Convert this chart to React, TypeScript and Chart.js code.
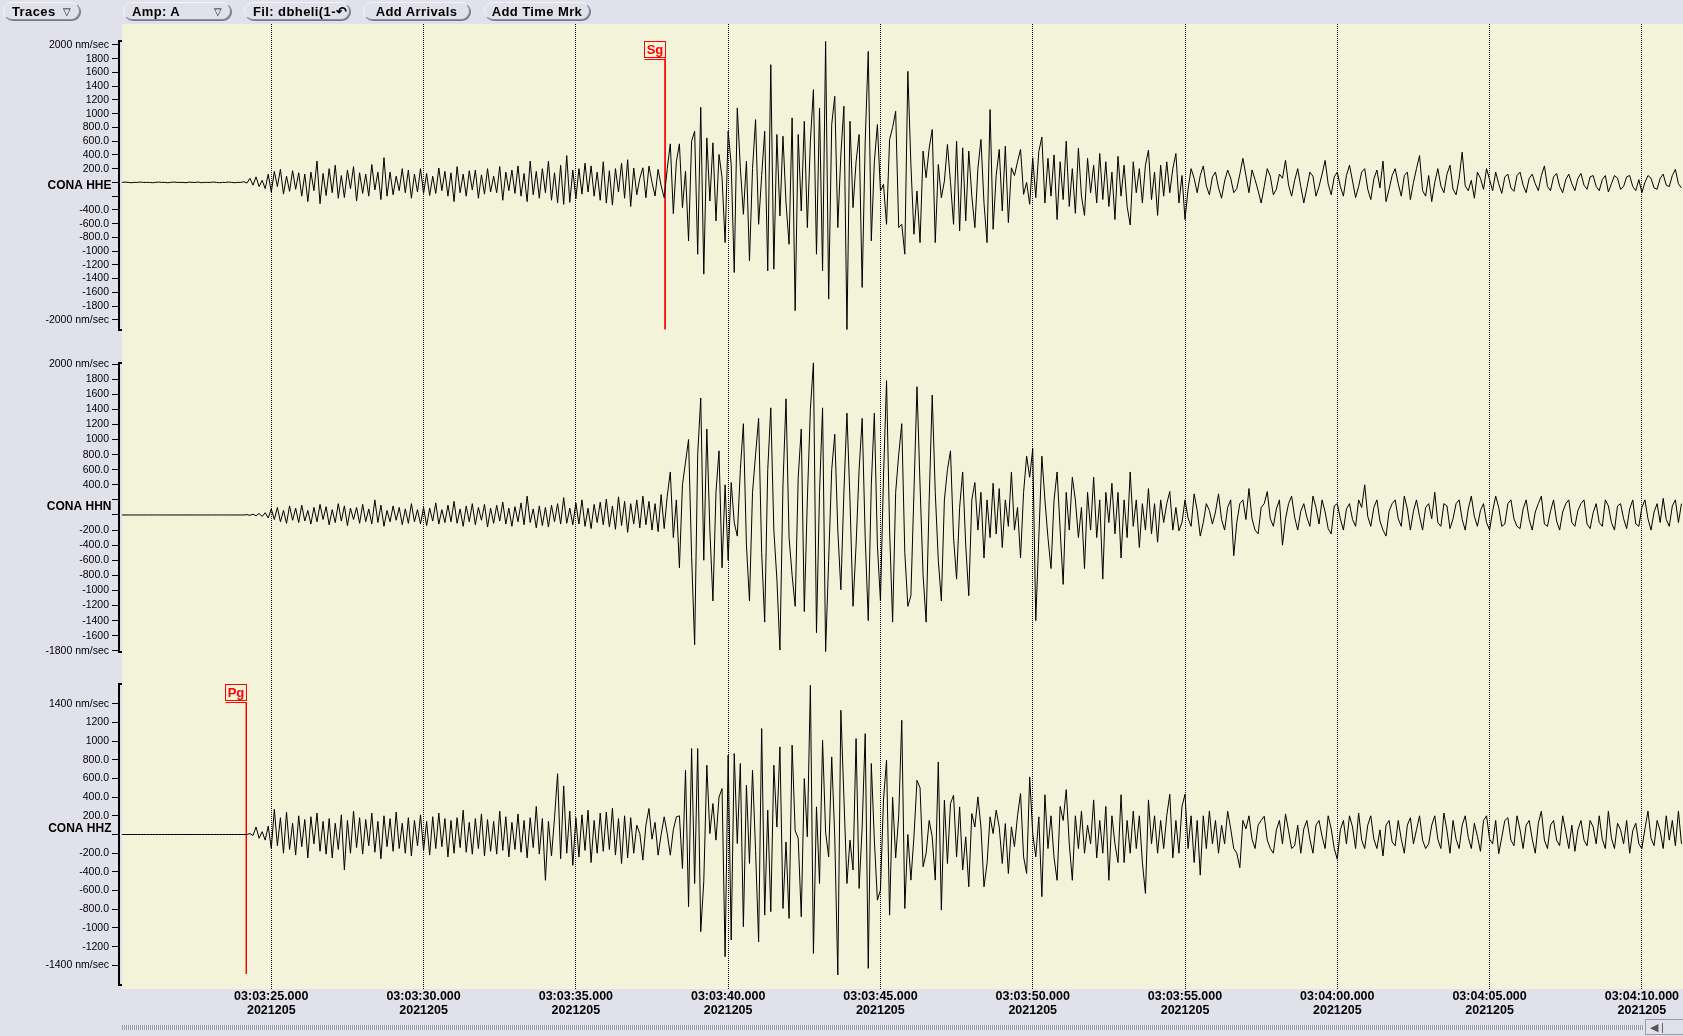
import React, { useEffect, useRef } from "react";
import { Chart, registerables } from "chart.js";

Chart.register(...registerables);

// ---------- data ----------
const T0 = 20.1; // seconds after 03:03:00 of first sample
const DT = 0.1; // sample spacing (s)
const X_MIN = 20;
const X_MAX = 71.35;

const timeTicks = [25, 30, 35, 40, 45, 50, 55, 60, 65, 70];
const timeLabels = [
  "03:03:25.000", "03:03:30.000", "03:03:35.000", "03:03:40.000", "03:03:45.000",
  "03:03:50.000", "03:03:55.000", "03:04:00.000", "03:04:05.000", "03:04:10.000",
];
const dateLabel = "2021205";

const channelNames = ["CONA HHE", "CONA HHN", "CONA HHZ"];

const hheTicks = [2000, 1800, 1600, 1400, 1200, 1000, 800, 600, 400, 200, 0, -200, -400, -600, -800, -1000, -1200, -1400, -1600, -1800, -2000];
const hhnTicks = [2000, 1800, 1600, 1400, 1200, 1000, 800, 600, 400, 200, 0, -200, -400, -600, -800, -1000, -1200, -1400, -1600, -1800];
const hhzTicks = [1400, 1200, 1000, 800, 600, 400, 200, 0, -200, -400, -600, -800, -1000, -1200, -1400];
const hheUnlabeled = [0, -200];
const hhnUnlabeled = [200, 0];
const hhzUnlabeled = [0];
const hheRange = [-2141, 2061];
const hhnRange = [-1816, 2017];
const hhzRange = [-1610, 1610];

const phaseNames = ["Sg", "Pg"];
const phaseTimes = [37.93, 24.18];
const phaseFrom = [1800, 1414];
const phaseTo = [-2141, -1490];
const phaseAxis = ["y1", "y3"];

// nm/sec, one row per second
const hheValues = [
  0, 5, 0, -5, 0, 0, 5, 0, 0,
  0, -5, 0, 5, 0, 0, -5, 0, 5, 0,
  0, 0, -5, 5, 0, 0, 5, -5, 0, 0,
  0, 5, 0, -5, 0, 0, 5, 0, -5, 0,
  0, 10, -10, 60, -40, 80, -60, 30, -90, 120,
  -140, 160, -60, 190, -170, 90, -130, 170, -100, 140,
  -200, 120, -280, 150, -120, 310, -310, 130, -190, 200,
  -150, 250, -230, 100, -220, 180, -90, 230, -270, 140,
  -160, 120, -200, 260, -110, 150, -250, 360, -200, 150,
  -180, 90, -120, 200, -150, 180, -230, 120, -140, 200,
  -160, 130, -190, 90, -160, 210, -120, 160, -200, 140,
  -280, 230, -150, 120, -200, 170, -110, 180, -230, 110,
  -170, 200, -140, 90, -150, 230, -260, 150, -120, 180,
  -160, 240, -200, 130, -280, 310, -180, 160, -230, 200,
  -150, 310, -260, 140, -300, 250, -320, 390, -290, 180,
  -240, 200, -170, 280, -140, 240, -200, 150, -260, 300,
  -300, 170, -330, 200, -140, 280, -230, 330, -350, 210,
  -180, 60, 213, -223, 237, 0, -198, 189, -50, -223,
  200, 561, -455, 300, 561, -368, 164, -851, 600, 745,
  -1045, 1093, -1335, 648, -271, 576, -561, 406, 68, -876,
  745, 261, -1311, 1084, 213, -464, 310, -1142, 200, 914,
  -610, 100, 745, -1287, 1713, -1263, 697, -489, 672, -300,
  -900, 939, -1867, 697, -416, 890, -658, 600, 1350, -1045,
  1084, -1287, 2051, -1698, 842, 1253, -658, 400, 1108, -2158,
  890, -368, 300, 697, -1529, 600, 1906, -851, 300, 842,
  -126, -29, -610, 624, 800, 1035, -658, -610, -1045, 1616,
  261, -755, -126, -876, 455, 68, 500, 769, -876, 261,
  -223, 19, 552, 0, -610, 600, -706, 503, -561, 455,
  -200, -658, 200, 624, -300, -876, 1060, -682, 100, 479,
  -416, 527, -585, 213, 100, 300, 479, -174, 0, -319,
  358, -223, 450, 660, -300, 350, -200, 400, -540, 300,
  -250, 600, -350, 200, -450, 500, -200, -480, 350, -150,
  250, -300, 420, -250, 300, -350, 150, -540, 380, -200,
  250, -350, -620, 300, -150, 200, -300, 250, 470, -250,
  150, -480, 250, -200, 300, -150, 200, 420, -300, 100,
  -540, -100, 200, 60, -150, 100, 240, -50, -180, 80,
  150, -80, -230, 20, 180, 60, -150, -90, 120, 350,
  100, -150, 180, 40, -120, -300, -60, 200, 90, -180,
  -100, 120, 60, 320, -40, -200, 30, 200, -60, -300,
  -80, 150, 90, -200, -60, 120, 320, -20, -180, 80,
  150, -60, -200, 100, 250, 20, -220, -60, 150, 200,
  -100, -250, 50, 180, -80, 310, -280, -100, 100, 200,
  -20, -200, 100, 150, -250, 0, 200, 390, -120, -200,
  100, -280, 0, 200, -50, -150, 120, 250, -100, -180,
  60, 440, -50, -120, 30, -230, 150, 60, -100, 200,
  40, -120, 150, -20, -160, 80, 120, -80, -130, 100,
  150, -40, -150, 60, 120, -20, -120, 100, 240, -60,
  -120, 80, 130, -60, -150, 40, 120, -20, -120, 60,
  130, -40, -100, 80, 100, -60, -120, 40, 100, -140,
  -20, 100, 60, -100, -60, 80, 100, -60, -120, 40,
  -150, 0, 100, 60, -80, -100, 60, 120, -40, -60,
  100, 190, -20, -80,
];

const hhnValues = [
  0, 0, 0, 0, 0, 0, 0, 0, 0,
  0, 0, 0, 0, 0, 0, 0, 0, 0, 0,
  0, 0, 0, 0, 0, 0, 0, 0, 0, 0,
  0, 0, 0, 0, 0, 0, 0, 0, 0, 0,
  0, 0, 5, -5, 10, -10, 20, -20, 30, -40,
  80, -60, 100, -90, 60, -110, 120, -70, 90, -100,
  130, -80, 60, -120, 100, -90, 140, -60, 110, -130,
  70, -100, 150, -80, 120, -140, 90, -60, 100, -110,
  140, -90, 80, -120, 200, -100, 130, -150, 60, -90,
  120, -70, 100, -130, 80, -110, 150, -90, 70, -120,
  100, -140, 90, -80, 160, -120, 70, -100, 130, -90,
  180, -110, 80, -150, 120, -90, 150, -130, 100, -70,
  140, -160, 90, -110, 130, -80, 170, -120, 90, -150,
  110, -90, 160, -130, 250, -100, 80, -170, 120, -140,
  100, -160, 130, -90, 150, -120, 230, -110, 90, -130,
  160, -120, 200, -150, 90, -180, 140, -100, 170, -130,
  210, -160, 120, -190, 240, -140, 180, -230, 150, -120,
  200, -170, 250, -130, 180, -200, 150, -220, 270, -180,
  250, 570, -300, 200, -700, 400, 700, 1000, -550, -1720,
  800, 1550, -600, 1140, -200, -1140, 300, 850, -700, 400,
  -600, 430, -100, -280, 600, 1210, -400, -1140, 300, 800,
  1280, -500, -1420, 600, 1420, -200, -850, -1790, 400, 1540,
  -300, -800, -1210, 500, 1140, -1280, 200, 1400, 2020, -1560,
  300, 1420, -1810, -600, 600, 1070, -200, -990, 300, 1350,
  200, -1210, -400, 600, 1280, -300, -1400, 400, 1350, -400,
  -1140, 500, 1780, -200, -1420, 300, 800, 1210, -500, -1210,
  -1070, 300, 1700, 400, -800, -1420, 200, 1590, 300, -600,
  -1140, 200, 600, 850, -300, -850, 100, 570, -400, -1070,
  200, 430, -200, 300, -570, 200, -300, 420, -250, 350,
  -430, 200, -150, 570, -200, 100, -570, 300, 780, 500,
  880, -1400, -300, 780, 200, -300, -710, 200, 570, -200,
  -920, 300, -200, 500, 200, -300, 100, -710, 300, -200,
  500, -300, 200, -850, 300, -100, 420, -250, 300, -570,
  200, -300, 570, -150, 200, -430, 150, -200, 350, -250,
  150, -360, 200, -100, 150, 310, -200, 100, -210, -100,
  200, -40, -150, 280, 60, -280, -100, 150, 60, -120,
  40, 280, -60, -200, 100, 200, -540, -100, 150, 200,
  -60, 350, -50, -200, -250, 100, 150, 310, -50, -150,
  80, 200, -400, -50, 150, 250, -30, -200, 50, 150,
  -30, -150, 250, 100, -120, 200, 40, -180, -250, 120,
  150, -50, -200, 80, 150, -60, -150, 200, 100, 400,
  -20, -150, 100, 200, -80, -200, -280, 50, 150, 200,
  -50, -150, 250, 80, -200, 50, 200, -20, -200, 100,
  150, -50, 300, -100, -150, 150, 120, -180, -50, 150,
  200, -60, -200, 80, 250, -20, -150, 60, 150, -100,
  -200, 50, 250, 100, -150, -120, 150, 200, -50, -150,
  -180, 80, 200, -60, -200, 40, 150, 250, -120, -150,
  50, 200, -80, -200, 40, 150, 200, -100, -150, 60,
  150, 200, -120, -180, 30, 150, -100, -150, 200, 120,
  -100, -200, 120, 150, -50, -180, 80, 200, -120, -150,
  100, 200, -50, -200, 40, 150, -100, 220, -60, -150,
  120, 200, -100, 150,
];

const hhzValues = [
  0, 0, 0, 0, 0, 0, 0, 0, 0,
  0, 0, 0, 0, 0, 0, 0, 0, 0, 0,
  0, 0, 0, 0, 0, 0, 0, 0, 0, 0,
  0, 0, 0, 0, 0, 0, 0, 0, 0, 0,
  0, 0, 0, 10, -10, 80, -40, 30, -60, 90,
  -150, 270, -120, 180, -200, 240, -160, 120, -220, 200,
  -130, 160, -250, 190, -100, 230, -180, 140, -210, 170,
  -250, 120, -160, 210, -380, 150, -200, 250, -140, 180,
  -210, 160, -120, 230, -190, 140, -260, 200, -130, 170,
  -180, 240, -150, 120, -200, 180, -230, 150, -120, 210,
  -170, 140, -220, 190, -150, 230, -130, 170, -240, 150,
  -200, 180, -140, 260, -190, 130, -210, 170, -150, 220,
  -230, 160, -180, 140, -210, 250, -170, 190, -240, 130,
  -160, 220, -190, 150, -250, 180, -140, 300, -210, 170,
  -490, 140, -230, 180, 650, -260, 520, -200, 250, -330,
  180, -240, 210, -170, 260, -300, 150, -200, 230, -180,
  240, -160, 280, -220, 170, -310, 200, -250, 180, -200,
  100, 10, -274, 100, 278, -50, 130, -221, 0, 189,
  10, -221, 50, 189, 200, -363, 687, -773, 919, -524,
  919, -1040, -500, 741, 10, 331, -60, 400, 491, -1307,
  848, -1129, 866, -96, 759, -987, 527, -310, 687, -170,
  -1147, 1133, -862, 260, -826, 741, 80, 937, -791, -80,
  -898, 955, 40, -40, -880, 598, -25, 1596, -1272, 296,
  -524, 1008, 25, -240, 830, -25, -1503, 1329, 400, -524,
  -60, -380, 1026, -577, 80, 1079, -1432, 759, -60, -702,
  -595, 370, 794, -862, 400, -250, 200, 1222, -791, 0,
  -488, -25, 580, 500, -345, -200, 150, -25, -488, 776,
  -809, 367, -310, 331, 420, -240, 295, -380, -25, -559,
  224, 80, 402, 80, -559, -310, 189, 10, 260, 80,
  -310, 117, -417, 82, -130, 200, 438, -239, -417, 616,
  10, -239, 189, -665, 425, -150, 200, -250, -490, 300,
  150, 480, -100, -490, 200, -150, 250, -200, 100, -100,
  370, -250, 150, -200, 300, -490, 200, -100, -300, 425,
  -300, 150, -200, 250, -150, 200, -300, -630, 370, -100,
  200, -200, 150, -150, 200, 430, -250, 150, -200, 300,
  430, -150, 200, -300, 150, -435, 200, -150, 250, -100,
  150, -200, 100, -100, 250, 60, -150, -200, -355, 150,
  60, 200, -50, -150, 100, 150, 195, -60, -150, -200,
  50, 150, -100, 220, 40, -150, -120, 100, -200, 60,
  150, -50, -200, 100, 150, -20, -150, 200, 60, -150,
  -265, 50, 150, -100, 200, 80, -150, 230, -60, -150,
  100, 200, -50, -150, 50, -230, 100, 150, -80, -120,
  150, -50, -200, 100, 180, -100, 50, 200, -60, -150,
  -100, 100, 200, -50, -150, 230, 40, -200, 150, -50,
  -150, 100, 200, -30, -150, 120, -20, -180, 150, 200,
  -50, -100, 150, -205, -30, 150, 180, -60, -120, 200,
  50, -150, 100, 150, -50, -200, 120, 250, -60, -150,
  100, 150, -60, -120, 200, 30, -150, 100, -180, 50,
  150, -60, -120, 150, 80, -100, 200, -50, -150, 250,
  -40, -150, 120, 50, -100, 150, -200, 40, 120, -100,
  -150, 60, 250, -40, -120, 150, 40, -150, 200, -60,
  150, -120, 250, -100,
];

// ---------- styling ----------
const PAGE_BG = "#e1e1eb";
const PLOT_BG = "#f3f3da";
const RED = "#ff0000";
const AXIS_W = 119;
const SANS = '"Liberation Sans", Arial, Helvetica, sans-serif';

const toPoints = (vals: number[]) =>
  vals.map((v, i) => ({ x: +(T0 + i * DT).toFixed(2), y: v }));

const fmtTick = (v: number, list: number[], hidden: number[]) => {
  if (hidden.includes(v)) return "";
  let s = Math.abs(v) >= 1000 ? String(v) : v.toFixed(1);
  if (v === Math.max(...list) || v === Math.min(...list)) s += " nm/sec";
  return s;
};

const panelAxis = (
  range: number[], list: number[], hidden: number[], weight: number, stackWeight: number
) => ({
  type: "linear",
  axis: "y",
  position: "left",
  stack: "panels",
  stackWeight,
  weight,
  min: range[0],
  max: range[1],
  afterBuildTicks: (s: any) => {
    s.ticks = [...list].sort((a, b) => a - b).map((v) => ({ value: v }));
  },
  afterFit: (s: any) => {
    s.width = AXIS_W;
  },
  ticks: {
    autoSkip: false,
    padding: 3,
    color: "#000",
    font: { family: SANS, size: 10.5 },
    callback: (v: any) => fmtTick(Number(v), list, hidden),
  },
  grid: { display: true, drawOnChartArea: false, drawTicks: true, tickLength: 7, color: "#000", tickColor: "#000", lineWidth: 1 },
  border: { display: true, color: "#000", width: 2 },
});

const spacerAxis = (weight: number, stackWeight: number) => ({
  type: "linear",
  axis: "y",
  position: "left",
  stack: "panels",
  stackWeight,
  weight,
  min: 0,
  max: 1,
  ticks: { display: false },
  grid: { display: false },
  border: { display: false },
  afterFit: (s: any) => {
    s.width = AXIS_W;
  },
});

const bgPlugin = {
  id: "panelBg",
  beforeDraw(chart: any) {
    const { ctx, chartArea: a } = chart;
    ctx.save();
    ctx.fillStyle = PLOT_BG;
    ctx.fillRect(a.left + 3, a.top, a.right - a.left - 3, a.bottom - a.top);
    ctx.restore();
  },
};

const bracketPlugin = {
  id: "brackets",
  afterDraw(chart: any) {
    const ctx = chart.ctx;
    ctx.save();
    ctx.fillStyle = "#000";
    ["y1", "y2", "y3"].forEach((id) => {
      const s = chart.scales[id];
      const x = Math.round(s.right) - 1;
      ctx.fillRect(x, Math.round(s.top) - 1, 4, 2);
      ctx.fillRect(x, Math.round(s.bottom) - 1, 4, 2);
    });
    ctx.restore();
  },
};

const channelPlugin = {
  id: "channelNames",
  afterDraw(chart: any) {
    const ctx = chart.ctx;
    const offsets = [3.5, -8.5, -5.5];
    ctx.save();
    ctx.font = `bold 12px ${SANS}`;
    ctx.textAlign = "right";
    ctx.textBaseline = "middle";
    ctx.fillStyle = "#000";
    ["y1", "y2", "y3"].forEach((id, i) => {
      const s = chart.scales[id];
      ctx.fillText(channelNames[i], s.right - 7.5, s.getPixelForValue(0) + offsets[i]);
    });
    ctx.restore();
  },
};

const phasePlugin = {
  id: "phaseLabels",
  afterDatasetsDraw(chart: any) {
    const ctx = chart.ctx;
    ctx.save();
    phaseNames.forEach((name, i) => {
      const s = chart.scales[phaseAxis[i]];
      const x = Math.round(chart.scales.x.getPixelForValue(phaseTimes[i])) + 0.5;
      const y = Math.round(s.getPixelForValue(phaseFrom[i]));
      ctx.strokeStyle = RED;
      ctx.lineWidth = 1;
      ctx.fillStyle = PLOT_BG;
      ctx.fillRect(x - 21, y - 17.5, 21, 16);
      ctx.strokeRect(x - 21, y - 17.5, 21, 16);
      ctx.beginPath();
      ctx.moveTo(x - 21, y + 0.5);
      ctx.lineTo(x, y + 0.5);
      ctx.stroke();
      ctx.fillStyle = RED;
      ctx.font = 'bold 13px "Liberation Sans", sans-serif';
      ctx.textAlign = "center";
      ctx.textBaseline = "middle";
      ctx.fillText(name, x - 10.5, y - 9);
    });
    ctx.restore();
  },
};

function Button(props: { left: number; width: number; label: string; arrow?: string; center?: boolean }) {
  return (
    <div
      style={{
        position: "absolute",
        left: props.left,
        top: 2,
        width: props.width,
        height: 18,
        boxSizing: "border-box",
        border: "1px solid #8e8e9a",
        borderTopColor: "#f4f4fa",
        borderLeftColor: "#f4f4fa",
        borderRadius: 9,
        background: PAGE_BG,
        boxShadow: "1px 1px 0 #77778a",
        display: "flex",
        alignItems: "center",
        justifyContent: props.center ? "center" : "space-between",
        padding: "0 8px",
        font: `bold 13px ${SANS}`,
        letterSpacing: 0.4,
        color: "#000",
        whiteSpace: "nowrap",
        overflow: "hidden",
      }}
    >
      <span>{props.label}</span>
      {props.arrow ? <span style={{ fontSize: 10, fontWeight: "normal" }}>{props.arrow}</span> : null}
    </div>
  );
}

export default function App() {
  const ref = useRef<HTMLCanvasElement>(null);

  useEffect(() => {
    document.body.style.margin = "0";
    const canvas = ref.current;
    if (!canvas) return;
    const lineDs = (label: string, vals: number[], axis: string) => ({
      label,
      data: toPoints(vals),
      yAxisID: axis,
      borderColor: "#000",
      borderWidth: 1,
      pointRadius: 0,
      tension: 0,
      borderJoinStyle: "bevel",
    });
    const markerDs = phaseNames.map((name, i) => ({
      label: name,
      data: [
        { x: phaseTimes[i], y: phaseFrom[i] },
        { x: phaseTimes[i], y: phaseTo[i] },
      ],
      yAxisID: phaseAxis[i],
      borderColor: RED,
      borderWidth: 1,
      pointRadius: 0,
    }));
    const chart = new Chart(canvas, {
      type: "line",
      data: {
        datasets: [
          lineDs(channelNames[0], hheValues, "y1"),
          lineDs(channelNames[1], hhnValues, "y2"),
          lineDs(channelNames[2], hhzValues, "y3"),
          ...markerDs,
        ] as any,
      },
      options: {
        responsive: false,
        animation: false,
        devicePixelRatio: 1,
        layout: { padding: { top: 24, left: 0, right: 0, bottom: 0 } },
        plugins: { legend: { display: false }, tooltip: { enabled: false }, title: { display: false } },
        elements: { point: { radius: 0 }, line: { borderWidth: 1, tension: 0 } },
        scales: {
          x: {
            type: "linear",
            position: "bottom",
            min: X_MIN,
            max: X_MAX,
            afterBuildTicks: (s: any) => {
              s.ticks = timeTicks.map((v) => ({ value: v }));
            },
            afterFit: (s: any) => {
              s.height = 47;
              s.paddingLeft = 0;
              s.paddingRight = 0;
            },
            ticks: {
              autoSkip: false,
              maxRotation: 0,
              minRotation: 0,
              padding: 1,
              color: "#000",
              font: { family: SANS, size: 12.5, weight: "bold", lineHeight: 1.1 },
              callback: (v: any) => {
                const i = timeTicks.indexOf(Number(v));
                return i < 0 ? "" : [timeLabels[i], dateLabel];
              },
            },
            grid: { display: true, drawOnChartArea: true, drawTicks: false, color: "#000", lineWidth: 1 },
            border: { display: false, dash: [1, 1] },
          },
          spacer0: spacerAxis(7, 16.8),
          y1: panelAxis(hheRange, hheTicks, hheUnlabeled, 6, 288.7),
          spacer1: spacerAxis(5, 33.3),
          y2: panelAxis(hhnRange, hhnTicks, hhnUnlabeled, 4, 289.2),
          spacer2: spacerAxis(3, 32),
          y3: panelAxis(hhzRange, hhzTicks, hhzUnlabeled, 2, 301),
          spacer3: spacerAxis(1, 4),
        } as any,
      },
      plugins: [bgPlugin, bracketPlugin, channelPlugin, phasePlugin],
    });
    return () => chart.destroy();
  }, []);

  return (
    <div
      style={{
        position: "fixed",
        left: 0,
        top: 0,
        width: 1683,
        height: 1036,
        background: PAGE_BG,
        overflow: "hidden",
      }}
    >
      <canvas
        ref={ref}
        width={1683}
        height={1036}
        style={{ position: "absolute", left: 0, top: 0, width: 1683, height: 1036, display: "block" }}
      />
      <Button left={3} width={77} label="Traces" arrow="▽" />
      <Button left={123} width={108} label="Amp: A" arrow="▽" />
      <Button left={244} width={106} label="Fil: dbheli(1-↶" />
      <Button left={363} width={107} label="Add Arrivals" center />
      <Button left={484} width={106} label="Add Time Mrk" center />
      <div
        style={{
          position: "absolute",
          left: 122,
          top: 1025,
          width: 1522,
          height: 5,
          background: "repeating-linear-gradient(90deg, #9a9aa6 0 1px, #e8e8f0 1px 2px)",
        }}
      />
      <div
        style={{
          position: "absolute",
          left: 1645,
          top: 1019,
          width: 40,
          height: 16,
          border: "1px solid #9a9aa6",
          borderRight: "none",
          boxSizing: "border-box",
          fontSize: 11,
          lineHeight: "14px",
          paddingLeft: 4,
          color: "#555",
          fontFamily: SANS,
        }}
      >
        ◀ |
      </div>
    </div>
  );
}
